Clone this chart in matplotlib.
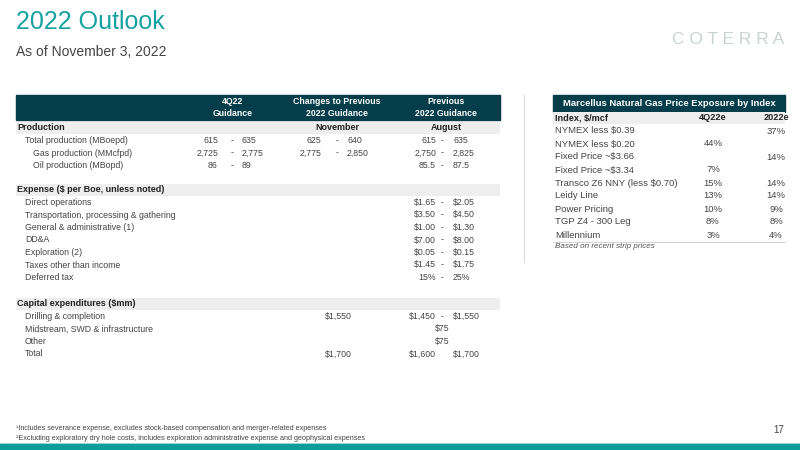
import matplotlib.pyplot as plt
from matplotlib.patches import Rectangle

plt.rcParams["font.family"] = ["Liberation Sans", "DejaVu Sans"]

DARK = "#063d4a"
TEAL = "#16a2a2"
GREY_TXT = "#444444"
BAND = "#eeeeee"

# left table: (label, indent, 4Q22, changes, previous); a value is (lo, hi) or single str
sections = ["Production", "Expense ($ per Boe, unless noted)", "Capital expenditures ($mm)"]
prod_rows = [
    ("Total production (MBoepd)", 1, ("615", "635"), ("625", "640"), ("615", "635")),
    ("Gas production (MMcfpd)", 2, ("2,725", "2,775"), ("2,775", "2,850"), ("2,750", "2,825")),
    ("Oil production (MBopd)", 2, ("86", "89"), None, ("85.5", "87.5")),
]
exp_rows = [
    ("Direct operations", 1, None, None, ("$1.65", "$2.05")),
    ("Transportation, processing & gathering", 1, None, None, ("$3.50", "$4.50")),
    ("General & administrative (1)", 1, None, None, ("$1.00", "$1.30")),
    ("DD&A", 1, None, None, ("$7.00", "$8.00")),
    ("Exploration (2)", 1, None, None, ("$0.05", "$0.15")),
    ("Taxes other than income", 1, None, None, ("$1.45", "$1.75")),
    ("Deferred tax", 1, None, None, ("15%", "25%")),
]
capex_rows = [
    ("Drilling & completion", 1, None, "$1,550", ("$1,450", "$1,550")),
    ("Midstream, SWD & infrastructure", 1, None, None, "$75"),
    ("Other", 1, None, None, "$75"),
    ("Total", 1, None, "$1,700", ("$1,600", "$1,700", "nodash")),
]

# right table
idx_names = ["NYMEX less $0.39", "NYMEX less $0.20", "Fixed Price ~$3.66", "Fixed Price ~$3.34",
             "Transco Z6 NNY (less $0.70)", "Leidy Line", "Power Pricing", "TGP Z4 - 300 Leg", "Millennium"]
q4_share = ["", "44%", "", "7%", "15%", "13%", "10%", "8%", "3%"]
y22_share = ["37%", "", "14%", "", "14%", "14%", "9%", "8%", "4%"]

fig = plt.figure(figsize=(8, 4.5), dpi=100)
ax = fig.add_axes([0, 0, 1, 1])
ax.set_xlim(0, 800)
ax.set_ylim(450, 0)
ax.axis("off")

ax.text(16, 22, "2022 Outlook", fontsize=18, color=TEAL, va="center")
ax.text(16, 52, "As of November 3, 2022", fontsize=10, color=GREY_TXT, va="center")
ax.text(784, 40, "C O T E R R A", fontsize=12.5, color="#c9d3cf", va="center", ha="right")

# left header
ax.add_patch(Rectangle((16, 95), 484, 25, color=DARK))
for cx, txt in [(233, "4Q22\nGuidance"), (337, "Changes to Previous\n2022 Guidance"),
                (446, "Previous\n2022 Guidance")]:
    ax.text(cx, 107.5, txt, fontsize=6.3, color="white", ha="center", va="center",
            fontweight="bold", linespacing=1.5)

cols = [(210, 232, 244), (313, 337, 349), (428, 442, 455)]
fs = 6.3


def draw_val(col, v, y):
    lo_x, dash_x, hi_x = col
    if v is None:
        return
    if isinstance(v, str):
        ax.text(dash_x, y, v, fontsize=fs, color=GREY_TXT, ha="center", va="center")
        return
    ax.text(lo_x + 8, y, v[0], fontsize=fs, color=GREY_TXT, ha="right", va="center")
    if len(v) == 2:
        ax.text(dash_x, y, "-", fontsize=fs, color=GREY_TXT, ha="center", va="center")
    ax.text(hi_x - 2, y, v[1], fontsize=fs, color=GREY_TXT, ha="left", va="center")


def draw_block(title, y0, rows, extra=None):
    ax.add_patch(Rectangle((16, y0 - 6), 484, 12, color=BAND, lw=0))
    ax.text(17, y0, title, fontsize=6.5, color="#222222", va="center", fontweight="bold")
    if extra:
        for cx, t in extra:
            ax.text(cx, y0, t, fontsize=6.5, color="#222222", ha="center", va="center", fontweight="bold")
    y = y0 + 12.5
    for label, ind, a, b, c in rows:
        ax.text(17 + 8 * ind, y, label, fontsize=fs, color=GREY_TXT, va="center")
        draw_val(cols[0], a, y)
        if isinstance(b, str):
            ax.text(338, y, b, fontsize=fs, color=GREY_TXT, ha="center", va="center")
        else:
            draw_val(cols[1], b, y)
        draw_val(cols[2], c, y)
        y += 12.5


draw_block(sections[0], 128, prod_rows, [(337, "November"), (446, "August")])
draw_block(sections[1], 190, exp_rows)
draw_block(sections[2], 304, capex_rows)

# divider
ax.plot([524, 524], [95, 262], color="#dddddd", lw=0.8)

# right table
ax.add_patch(Rectangle((553, 95), 232, 17, color=DARK))
ax.text(669, 103.5, "Marcellus Natural Gas Price Exposure by Index", fontsize=6.8,
        color="white", ha="center", va="center", fontweight="bold")
ax.add_patch(Rectangle((553, 112), 232, 12, color=BAND, lw=0))
ax.text(555, 118, "Index, $/mcf", fontsize=6.6, color="#222222", va="center", fontweight="bold")
ax.text(713, 118, "4Q22e", fontsize=6.6, color="#222222", ha="center", va="center", fontweight="bold")
ax.text(776, 118, "2022e", fontsize=6.6, color="#222222", ha="center", va="center", fontweight="bold")
for i, (n, a, b) in enumerate(zip(idx_names, q4_share, y22_share)):
    y = 131 + 13 * i
    ax.text(555, y, n, fontsize=6.8, color=GREY_TXT, va="center")
    ax.text(713, y, a, fontsize=6.8, color=GREY_TXT, ha="center", va="center")
    ax.text(776, y, b, fontsize=6.8, color=GREY_TXT, ha="center", va="center")
ax.plot([553, 785], [241.5, 241.5], color="#cccccc", lw=0.6)
ax.text(555, 247, "Based on recent strip prices", fontsize=5.8, color="#555555",
        va="center", style="italic")

# footnotes
ax.text(16, 429, "¹Includes severance expense, excludes stock-based compensation and merger-related expenses",
        fontsize=5.2, color=GREY_TXT, va="center")
ax.text(16, 438.5, "²Excluding exploratory dry hole costs, includes exploration administrative expense and geophysical expenses",
        fontsize=5.2, color=GREY_TXT, va="center")
ax.text(784, 430, "17", fontsize=7, color=GREY_TXT, ha="right", va="center")
ax.add_patch(Rectangle((0, 444), 800, 6, color="#0a9e9b", lw=0))
ax.plot([0, 800], [443, 443], color="#7fcfcc", lw=0.6)

fig.savefig("out.png", dpi=100)
